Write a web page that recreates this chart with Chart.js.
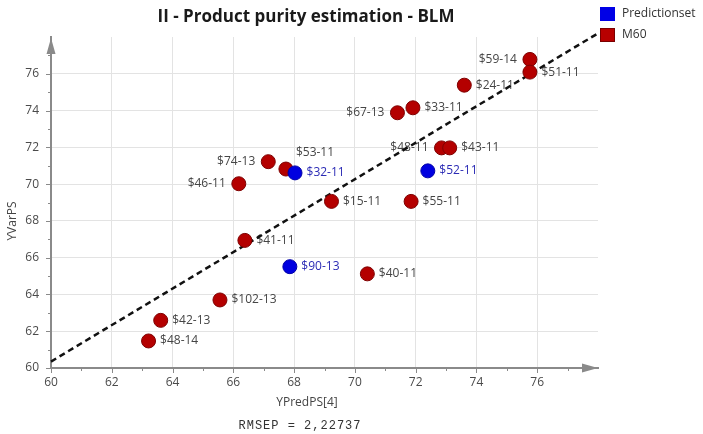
<!DOCTYPE html>
<html>
<head>
<meta charset="utf-8">
<script src="https://cdn.jsdelivr.net/npm/chart.js@4.4.1/dist/chart.umd.min.js"></script>
<style>
  body { margin: 0; background: #fff; }
  canvas { display: block; }
</style>
</head>
<body>
<canvas id="chart" width="703" height="434"></canvas>
<script>
// M60 samples (red)
const m60Names = ['$59-14', '$51-11', '$24-11', '$33-11', '$67-13', '$48-11', '$43-11', '$55-11', '$15-11',
                  '$53-11', '$74-13', '$46-11', '$41-11', '$102-13', '$42-13', '$48-14', '$40-11'];
const m60X = [75.76, 75.76, 73.6, 71.91, 71.4, 72.85, 73.12, 71.85, 69.23,
              67.73, 67.15, 66.18, 66.38, 65.56, 63.61, 63.21, 70.41];
const m60Y = [76.78, 76.09, 75.38, 74.15, 73.88, 71.97, 71.97, 69.06, 69.06,
              70.82, 71.22, 70.02, 66.94, 63.7, 62.59, 61.47, 65.12];

// prediction set (blue)
const predNames = ['$32-11', '$52-11', '$90-13'];
const predX = [68.03, 72.4, 67.86];
const predY = [70.61, 70.72, 65.51];

// dashed fit line
const lineX = [60, 78];
const lineY = [60.35, 78.2];

const xTicks = [60, 62, 64, 66, 68, 70, 72, 74, 76];
const yTicks = [60, 62, 64, 66, 68, 70, 72, 74, 76];

// where each label sits next to its point (default: right)
const labelSide = { '$59-14': 'left', '$67-13': 'left', '$48-11': 'left', '$74-13': 'left', '$46-11': 'left', '$53-11': 'above' };

const toPts = (xs, ys) => xs.map((x, i) => ({ x: x, y: ys[i] }));

const FONT = '"Open Sans", "Noto Sans", sans-serif';

const gridColor = ctx => {
  const v = ctx.tick ? ctx.tick.value : null;
  if (v === null || v === 60 || v === 78 || v % 2 !== 0) return 'rgba(0,0,0,0)';
  return '#e3e3e3';
};

const extras = {
  id: 'extras',
  beforeDatasetsDraw(chart) {
    // point labels, under the line and points
    const ctx = chart.ctx;
    ctx.save();
    ctx.font = '12px ' + FONT;
    ctx.textBaseline = 'middle';
    const sets = [[0, m60Names, '#454545'], [1, predNames, '#2b2bb5']];
    sets.forEach(([di, names, col]) => {
      const meta = chart.getDatasetMeta(di);
      meta.data.forEach((el, i) => {
        const side = labelSide[names[i]] || 'right';
        ctx.fillStyle = col;
        if (side === 'left') {
          ctx.textAlign = 'right';
          ctx.fillText(names[i], el.x - 13, el.y);
        } else if (side === 'above') {
          ctx.textAlign = 'left';
          ctx.fillText(names[i], el.x + 10, el.y - 16.5);
        } else {
          ctx.textAlign = 'left';
          ctx.fillText(names[i], el.x + 11.5, el.y);
        }
      });
    });
    ctx.restore();
  },
  afterDraw(chart) {
    const ctx = chart.ctx;
    const a = chart.chartArea;
    const xs = chart.scales.x, ys = chart.scales.y;
    ctx.save();

    // tick marks, minor ones shorter
    ctx.strokeStyle = '#8a8a8a';
    ctx.lineWidth = 1;
    for (let v = 60; v < 78; v++) {
      const len = v % 2 === 0 ? 5 : 3;
      const px = Math.round(xs.getPixelForValue(v)) + 0.5;
      ctx.beginPath(); ctx.moveTo(px, a.bottom); ctx.lineTo(px, a.bottom + len); ctx.stroke();
      const py = Math.round(ys.getPixelForValue(v)) + 0.5;
      ctx.beginPath(); ctx.moveTo(a.left, py); ctx.lineTo(a.left - len, py); ctx.stroke();
    }

    // axis arrows
    ctx.fillStyle = '#8a8a8a';
    ctx.beginPath();
    ctx.moveTo(a.right, a.bottom);
    ctx.lineTo(a.right - 16, a.bottom - 4.5);
    ctx.lineTo(a.right - 16, a.bottom + 4.5);
    ctx.closePath(); ctx.fill();
    ctx.beginPath();
    ctx.moveTo(a.left, a.top + 1);
    ctx.lineTo(a.left - 4.5, a.top + 17);
    ctx.lineTo(a.left + 4.5, a.top + 17);
    ctx.closePath(); ctx.fill();

    // title
    ctx.fillStyle = '#1a1a1a';
    ctx.font = 'bold 17px ' + FONT;
    ctx.textAlign = 'center';
    ctx.textBaseline = 'middle';
    ctx.fillText('II - Product purity estimation - BLM', 306, 17);

    // axis titles
    ctx.fillStyle = '#444';
    ctx.font = '12px ' + FONT;
    ctx.fillText('YPredPS[4]', 307, 403);
    ctx.save();
    ctx.translate(13, 221);
    ctx.rotate(-Math.PI / 2);
    ctx.fillText('YVarPS', 0, 0);
    ctx.restore();

    // RMSEP note
    ctx.fillStyle = '#333';
    ctx.font = '12px "Liberation Mono", "DejaVu Sans Mono", monospace';
    ctx.letterSpacing = '1px';
    ctx.fillText('RMSEP = 2,22737', 300, 426);
    ctx.letterSpacing = '0px';

    // legend
    ctx.textAlign = 'left';
    ctx.font = '12px ' + FONT;
    ctx.fillStyle = '#0000e6';
    ctx.fillRect(600, 7, 15, 14);
    ctx.fillStyle = '#b80000';
    ctx.fillRect(600, 28, 15, 14);
    ctx.strokeStyle = '#7a0000';
    ctx.strokeRect(600.5, 28.5, 14, 13);
    ctx.fillStyle = '#333';
    ctx.fillText('Predictionset', 622, 14);
    ctx.fillText('M60', 622, 35);

    ctx.restore();
  }
};

const ctx = document.getElementById('chart').getContext('2d');
new Chart(ctx, {
  type: 'scatter',
  data: {
    datasets: [
      {
        label: 'M60',
        data: toPts(m60X, m60Y),
        backgroundColor: '#b40000',
        borderColor: '#7e0000',
        borderWidth: 1,
        pointRadius: 7,
        order: 2
      },
      {
        label: 'Predictionset',
        data: toPts(predX, predY),
        backgroundColor: '#0000e0',
        borderColor: '#0000a8',
        borderWidth: 1,
        pointRadius: 7,
        order: 1
      },
      {
        type: 'line',
        label: 'fit',
        data: toPts(lineX, lineY),
        borderColor: '#111',
        borderWidth: 2.5,
        borderDash: [6, 4],
        pointRadius: 0,
        fill: false,
        clip: false,
        order: 3
      }
    ]
  },
  options: {
    responsive: false,
    animation: false,
    layout: { padding: { left: 0, top: 37, right: 105, bottom: 0 } },
    plugins: {
      legend: { display: false },
      title: { display: false },
      tooltip: { enabled: false }
    },
    scales: {
      x: {
        type: 'linear',
        min: 60,
        max: 78,
        afterFit: s => { s.height = 66; },
        afterBuildTicks: s => { s.ticks = []; for (let v = 60; v <= 78; v += 2) s.ticks.push({ value: v }); },
        ticks: {
          autoSkip: false,
          maxRotation: 0,
          padding: 2,
          color: '#4a4a4a',
          font: { family: FONT, size: 12 },
          callback: v => xTicks.includes(v) ? String(v) : ''
        },
        grid: { color: gridColor, tickLength: 5, tickColor: 'rgba(0,0,0,0)' },
        border: { display: true, color: '#8a8a8a', width: 2 }
      },
      y: {
        type: 'linear',
        min: 60,
        max: 78,
        afterFit: s => { s.width = 51; },
        afterBuildTicks: s => { s.ticks = []; for (let v = 60; v <= 78; v += 2) s.ticks.push({ value: v }); },
        ticks: {
          autoSkip: false,
          padding: 7,
          color: '#4a4a4a',
          font: { family: FONT, size: 12 },
          callback: v => yTicks.includes(v) ? String(v) : ''
        },
        grid: { color: gridColor, tickLength: 5, tickColor: 'rgba(0,0,0,0)' },
        border: { display: true, color: '#8a8a8a', width: 2 }
      }
    }
  },
  plugins: [extras]
});
</script>
</body>
</html>
